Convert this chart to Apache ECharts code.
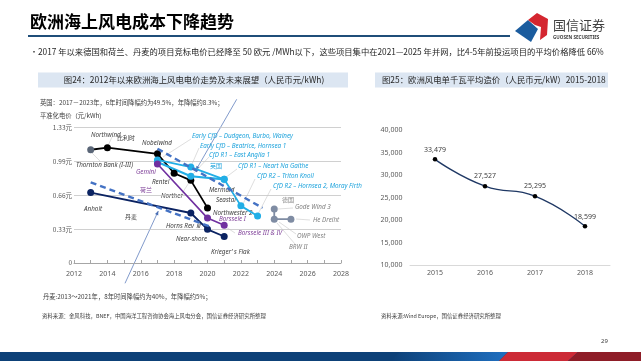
<!DOCTYPE html>
<html><head><meta charset="utf-8">
<script src="https://cdn.jsdelivr.net/npm/echarts@6/dist/echarts.min.js"></script>
<style>html,body{margin:0;padding:0;background:#fff}#c{width:641px;height:361px}</style>
</head><body><div id="c"></div>
<script>
// ---- data (left chart: levelised electricity price, yuan/kWh) ----
const leftYTickLabels = ['0', '0.33元', '0.66元', '0.99元', '1.33元'];
const belgiumYears = [2013, 2014, 2017, 2018, 2019, 2020];
const belgiumPrice = [1.11, 1.13, 1.07, 0.88, 0.81, 0.54];
const ukAYears = [2017, 2019, 2021, 2022, 2023];
const ukAPrice = [1.01, 0.94, 0.82, 0.56, 0.46];
const ukBYears = [2017, 2019, 2021];
const ukBPrice = [0.99, 0.85, 0.82];
const nlYears = [2017, 2020, 2021];
const nlPrice = [0.97, 0.44, 0.37];
const dkYears = [2013, 2019, 2020, 2021];
const dkPrice = [0.69, 0.49, 0.33, 0.26];
const deYears = [2024, 2024, 2025];
const dePrice = [0.53, 0.43, 0.43];
const trendUpYears = [2017, 2023.3];
const trendUpPrice = [1.12, 0.54];
const trendLowYears = [2013, 2020.1];
const trendLowPrice = [0.79, 0.36];
// ---- data (right chart: cost per kW, yuan/kW) ----
const costYears = ['2015', '2016', '2017', '2018'];
const costValues = [33479, 27527, 25295, 18599];

const zip = (xs, ys) => xs.map((x, i) => [x, ys[i]]);
const CJK = '"Noto Sans CJK SC", "Noto Sans", sans-serif';
const LAT = '"Noto Sans", "Liberation Sans", sans-serif';

const chart = echarts.init(document.getElementById('c'), null, {renderer: 'canvas'});

function T(x, y, text, size, fill, extra) {
  return Object.assign({
    type: 'text', x: x, y: y, silent: true,
    style: Object.assign({text: text, fontSize: size, fill: fill, fontFamily: CJK,
      verticalAlign: 'middle', align: 'left'}, (extra && extra.style) || {})
  }, (extra && extra.el) || {});
}
function L(x, y, text, fill) {
  return T(x, y, text, 6.3, fill, {style: {fontStyle: 'italic', fontFamily: LAT}});
}
function line(x1, y1, x2, y2, color, w) {
  return {type: 'line', silent: true, shape: {x1, y1, x2, y2},
    style: {stroke: color, lineWidth: w || 0.6}};
}
function arrowHead(x1, y1, x2, y2, color) {
  const a = Math.atan2(y2 - y1, x2 - x1), s = 4, w = 1.8;
  const p = [[x2, y2],
    [x2 - s * Math.cos(a) + w * Math.sin(a), y2 - s * Math.sin(a) - w * Math.cos(a)],
    [x2 - s * Math.cos(a) - w * Math.sin(a), y2 - s * Math.sin(a) + w * Math.cos(a)]];
  return {type: 'polygon', silent: true, shape: {points: p}, style: {fill: color}};
}

const DARK = '#404040', CYAN = '#1ea3dc', PURP = '#7e3f98', GRAYL = '#808080', LEAD = '#c8c8c8';

const graphics = [
  // title + rule
  T(30, 22, '欧洲海上风电成本下降趋势', 17, '#000', {style: {fontWeight: 'bold'}}),
  {type: 'rect', silent: true, shape: {x: 28, y: 35, width: 482, height: 2}, style: {fill: '#1f4e79'}},
  // logo
  {type: 'polygon', silent: true, shape: {points: [[515, 31], [528, 20], [538, 29], [531, 42]]}, style: {fill: '#1b5c9e'}},
  {type: 'polygon', silent: true, shape: {points: [[528, 20], [537, 13], [548, 19], [547, 35], [540, 40], [541, 27], [535, 25]]}, style: {fill: '#d42630'}},
  T(553, 25, '国信证券', 13, '#404040'),
  T(553, 38, 'GUOSEN SECURITIES', 4.6, '#404040', {style: {fontWeight: 'bold', fontFamily: LAT}}),
  // bullet
  T(30, 52, '•', 8, '#262626'),
  T(38, 52, '2017 年以来德国和荷兰、丹麦的项目竞标电价已经降至 50 欧元 /MWh以下，这些项目集中在2021—2025 年并网，比4-5年前投运项目的平均价格降低 66%', 8.3, '#262626'),
  // panel headers
  {type: 'rect', silent: true, shape: {x: 38, y: 72.5, width: 310, height: 15}, style: {fill: '#dce6f2'}},
  T(194, 80, '图24：2012年以来欧洲海上风电电价走势及未来展望（人民币元/kWh)', 8.4, '#262626', {style: {align: 'center'}}),
  {type: 'rect', silent: true, shape: {x: 375, y: 72.5, width: 233, height: 15}, style: {fill: '#dce6f2'}},
  T(382, 80, '图25：欧洲风电单千瓦平均造价（人民币元/kW）2015-2018', 8.4, '#262626'),
  // notes
  T(40, 103, '英国：2017－2023年，6年时间降幅约为49.5%，年降幅约8.3%；', 6.3, DARK),
  T(40, 115.5, '平准化电价（元/kWh)', 6.3, DARK),
  T(43, 297, '丹麦:2013～2021年，8年时间降幅约为40%，年降幅约5%；', 6.3, DARK),
  T(42, 316, '资料来源：金风科技，BNEF，中国海洋工程咨询协会海上风电分会，国信证券经济研究所整理', 5.4, DARK),
  T(381, 316, '资料来源:Wind Europe，国信证券经济研究所整理', 5.4, DARK),
  T(601, 341, '29', 6, DARK, {style: {fontFamily: LAT}}),
  // bottom band
  {type: 'rect', silent: true, shape: {x: 0, y: 352, width: 641, height: 9}, style: {fill: '#0d4178'}},
  {type: 'polygon', silent: true, shape: {points: [[400, 352], [508, 352], [499, 361], [391, 361]]},
    style: {fill: new echarts.graphic.LinearGradient(0, 0, 1, 0, [{offset: 0, color: '#0d4178'}, {offset: 1, color: '#1f6fc0'}])}},
  {type: 'polygon', silent: true, shape: {points: [[508, 352], [578, 352], [568, 361], [499, 361]]}, style: {fill: '#cc2a36'}},
  {type: 'polygon', silent: true, shape: {points: [[578, 352], [641, 352], [641, 361], [568, 361]]}, style: {fill: '#8e1d27'}},
  // annotation arrows
  line(236.7, 99.3, 196, 170, '#4a6fb5', 0.7),
  arrowHead(236.7, 99.3, 196, 170, '#4a6fb5'),
  line(125, 283.3, 158.3, 211, '#4a6fb5', 0.7),
  arrowHead(125, 283.3, 158.3, 211, '#4a6fb5'),
  // leader lines
  line(89, 150, 100, 161, LEAD), line(107, 148, 112, 137, LEAD),
  line(191, 139, 163, 157, LEAD), line(199, 148, 192, 164, LEAD),
  line(209, 157, 193, 174, LEAD), line(237, 169, 225, 178, LEAD),
  line(255, 179, 243, 204, LEAD), line(271, 189, 258, 214, LEAD),
  line(181, 195, 190, 181, LEAD), line(222, 188, 225, 181, LEAD),
  line(293, 208, 278, 209, LEAD), line(310, 220, 296, 219, LEAD),
  line(296, 234, 279, 222, LEAD), line(295, 244, 277, 223, LEAD),
  line(235, 233, 226, 227, LEAD),
  // labels
  L(91, 135.5, 'Northwind', DARK), T(117, 138, '比利时', 6, DARK),
  L(142, 143.3, 'Nobelwind', DARK),
  L(76, 165, 'Thornton Bank (I-III)', DARK),
  L(136, 172.7, 'Gemini', PURP),
  L(152, 182, 'Rentel', DARK),
  T(140, 190, '荷兰', 6, PURP),
  L(161, 196, 'Norther', DARK),
  L(84, 209.5, 'Anholt', DARK),
  T(125, 216.7, '丹麦', 6, DARK),
  L(166, 226, 'Horns Rev Ⅲ', DARK),
  L(176, 239.3, 'Near-shore', DARK),
  L(211, 252.3, 'Krieger’ s Flak', DARK),
  L(192, 136.7, 'Early CfD – Dudgeon, Burbo, Walney', CYAN),
  L(200, 146, 'Early CfD – Beatrice, Hornsea 1', CYAN),
  L(209, 155, 'CfD R1 – East Anglia 1', CYAN),
  T(210, 166, '英国', 6, CYAN),
  L(238, 166.7, 'CfD R1 – Neart Na Gaithe', CYAN),
  L(257, 176.7, 'CfD R2 – Triton Knoll', CYAN),
  L(273, 186.7, 'CfD R2 – Hornsea 2, Moray Firth', CYAN),
  L(209, 190, 'Mermaid', DARK),
  L(216, 200, 'Seastar', DARK),
  L(213, 213.3, 'Northwester 2', DARK),
  L(219, 219.5, 'Borssele I', PURP),
  L(238, 233.3, 'Borssele III & IV', PURP),
  T(282, 200, '德国', 6, GRAYL),
  L(295, 207.7, 'Gode Wind 3', GRAYL),
  L(313, 220, 'He Dreiht', GRAYL),
  L(297, 236, 'OWP West', GRAYL),
  L(289, 247.3, 'BRW II', GRAYL)
];

function lineSeries(name, data, color, width, opts) {
  return Object.assign({
    type: 'line', name: name, xAxisIndex: 0, yAxisIndex: 0, data: data,
    symbol: 'circle', symbolSize: 7, showSymbol: true,
    lineStyle: {color: color, width: width}, itemStyle: {color: color},
    emphasis: {disabled: true}, animation: false, z: 3
  }, opts || {});
}

const belgiumData = zip(belgiumYears, belgiumPrice).map((d, i) =>
  i === 0 ? {value: d, itemStyle: {color: '#5a6677'}} : d);

const option = {
  animation: false,
  textStyle: {fontFamily: LAT},
  grid: [
    {left: 74, width: 267, top: 127.3, height: 135.7, containLabel: false},
    {left: 410, width: 200, top: 130, height: 135, containLabel: false}
  ],
  xAxis: [
    {type: 'value', gridIndex: 0, min: 2012, max: 2028, interval: 2,
      axisLine: {show: true, lineStyle: {color: '#a6a6a6', width: 1}},
      axisTick: {show: true, inside: true, length: 3, lineStyle: {color: '#a6a6a6'}},
      minorTick: {show: true, splitNumber: 2, length: 3, lineStyle: {color: '#a6a6a6'}},
      splitLine: {show: false},
      axisLabel: {color: '#595959', fontSize: 7, margin: 7, fontFamily: LAT,
        formatter: v => String(Math.round(v))}},
    {type: 'category', gridIndex: 1, data: costYears, boundaryGap: true,
      axisLine: {show: true, lineStyle: {color: '#d9d9d9', width: 1}},
      axisTick: {show: false},
      axisLabel: {color: '#595959', fontSize: 7, margin: 4.5, fontFamily: LAT}}
  ],
  yAxis: [
    {type: 'value', gridIndex: 0, min: 0, max: 1.33, interval: 0.3325,
      axisLine: {show: false}, axisTick: {show: false},
      splitLine: {show: true, lineStyle: {color: '#c4c4c4', width: 0.8}},
      axisLabel: {color: '#595959', fontSize: 6.5, margin: 2, fontFamily: CJK,
        formatter: v => leftYTickLabels[Math.round(v / 0.3325)]}},
    {type: 'value', gridIndex: 1, min: 10000, max: 40000, interval: 5000,
      axisLine: {show: false}, axisTick: {show: false}, splitLine: {show: false},
      axisLabel: {color: '#595959', fontSize: 7, margin: 7.5, fontFamily: LAT,
        formatter: v => v.toLocaleString('en-US')}}
  ],
  series: [
    lineSeries('比利时', belgiumData, '#000000', 1.8),
    lineSeries('英国A', zip(ukAYears, ukAPrice), '#22aee6', 1.8),
    lineSeries('英国B', zip(ukBYears, ukBPrice), '#22aee6', 2.2),
    lineSeries('荷兰', zip(nlYears, nlPrice), '#7030a0', 1.6),
    lineSeries('丹麦', zip(dkYears, dkPrice), '#0b2362', 1.8),
    lineSeries('德国', zip(deYears, dePrice), '#7f8ca3', 1.8),
    lineSeries('趋势1', zip(trendUpYears, trendUpPrice), '#4472c4', 2.4,
      {symbol: 'none', lineStyle: {color: '#4472c4', width: 2.4, type: [6, 4]}, z: 4}),
    lineSeries('趋势2', zip(trendLowYears, trendLowPrice), '#4472c4', 2.4,
      {symbol: 'none', lineStyle: {color: '#4472c4', width: 2.4, type: [6, 4]}, z: 4}),
    {type: 'line', name: '单千瓦造价', xAxisIndex: 1, yAxisIndex: 1, data: costValues,
      smooth: true, symbol: 'circle', symbolSize: 4.5,
      lineStyle: {color: '#1f3864', width: 1.4}, itemStyle: {color: '#000'},
      label: {show: true, position: 'top', distance: 4, fontSize: 7, color: '#404040',
        fontFamily: LAT, formatter: p => p.value.toLocaleString('en-US')},
      emphasis: {disabled: true}}
  ],
  graphic: {elements: graphics}
};
chart.setOption(option);
</script></body></html>
